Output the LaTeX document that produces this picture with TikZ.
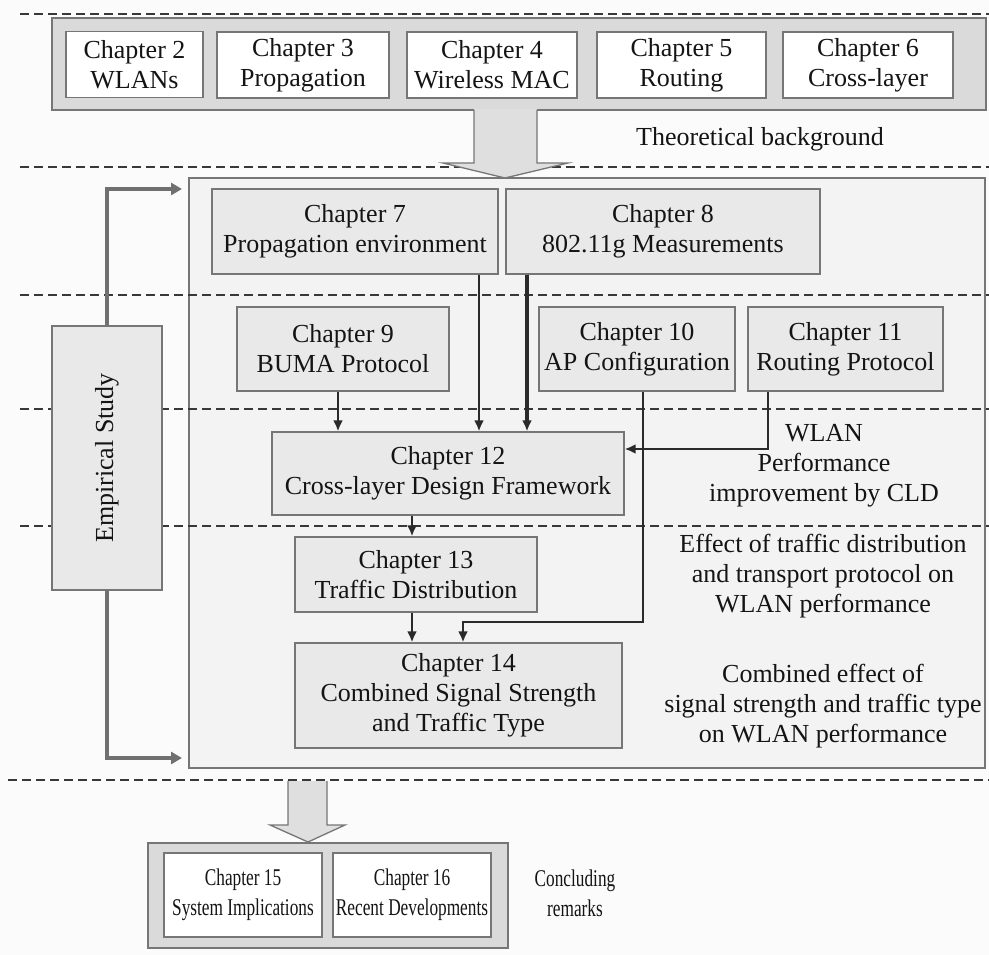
\documentclass[tikz,border=0pt]{standalone}
\usepackage{fontspec}
\setmainfont{Liberation Serif}
\newfontfamily\condfont[FakeStretch=0.72]{Liberation Serif}
\usetikzlibrary{arrows.meta}
\definecolor{pagebg}{HTML}{FBFBFB}
\definecolor{panelfill}{HTML}{F3F3F3}
\definecolor{topfill}{HTML}{DADADA}
\definecolor{midfill}{HTML}{E9E9E9}
\definecolor{bigarrowfill}{HTML}{DFDFDF}
\definecolor{boxline}{HTML}{767676}
\definecolor{dashcol}{HTML}{383838}
\definecolor{arrowdark}{HTML}{2A2A2A}
\definecolor{emparrow}{HTML}{707070}
\definecolor{textcol}{HTML}{141414}
\begin{document}
\begin{tikzpicture}[x=1pt,y=-1pt,
  font=\fontsize{26}{30}\selectfont, text=textcol,
  wh/.style 2 args={minimum width=#1pt, minimum height=#2pt},
  chap/.style={draw=boxline, line width=1.3pt, align=center, inner sep=0pt},
  whitechap/.style={chap, fill=white},
  graychap/.style={chap, fill=midfill},
  container/.style={draw=boxline, line width=1.3pt, inner sep=0pt},
  divider/.style={draw=dashcol, line width=2pt, dash pattern=on 9pt off 5pt},
  arr/.style={draw=arrowdark, line width=2.2pt, -{Latex[length=11pt,width=10pt]}},
  thickarr/.style={arr, line width=3.5pt},
  emparr/.style={draw=emparrow, line width=3.5pt, -{Triangle[length=11pt,width=12pt]}},
  bigarrow/.style={fill=bigarrowfill, draw=boxline, line width=1.3pt, line join=miter},
  lbl/.style={align=center, inner sep=0pt},
  small/.style={font=\condfont\fontsize{24}{30}\selectfont}
]
% page
\fill[pagebg] (0,0) rectangle (989,955);
\useasboundingbox (0,0) rectangle (989,955);

% empirical-study panel
\node[container, fill=panelfill, wh={796}{590}] (panel) at (587,473) {};

% section dividers
\draw[divider] (20,14) -- (989,14);
\draw[divider] (20,167) -- (989,167);
\draw[divider] (20,295) -- (989,295);
\draw[divider] (20,409) -- (989,409);
\draw[divider] (20,526) -- (989,526);
\draw[divider] (8,780) -- (989,780);

% theoretical background chapters
\node[container, fill=topfill, wh={934}{92}] (tb) at (519,64) {};
\node[whitechap, wh={137}{66}] (c2) at (134.5,64.5) {Chapter 2\\WLANs};
\node[whitechap, wh={172}{66}] (c3) at (303,65) {Chapter 3\\Propagation};
\node[whitechap, wh={170}{66}] (c4) at (492,65) {Chapter 4\\Wireless MAC};
\node[whitechap, wh={169}{66}] (c5) at (681.5,65) {Chapter 5\\Routing};
\node[whitechap, wh={170}{66}] (c6) at (868,65) {Chapter 6\\Cross-layer};

% block arrow into the empirical part
\fill[bigarrowfill] (474,109) -- (474,163) -- (443,163) -- (505,178) -- (568,163) -- (537,163) -- (537,109) -- cycle;
\draw[bigarrow, fill=none] (474,110) -- (474,163) -- (443,163) -- (505,178) -- (568,163) -- (537,163) -- (537,110);
\node[lbl] (theo) at (760,139) {Theoretical background};

% empirical study side bar
\node[chap, fill=midfill, wh={110}{264}] (emp) at (107,458) {};
\node[lbl, rotate=90] (empt) at (emp.center) {Empirical Study};
\coordinate (e1) at (182,189);
\coordinate (e2) at (182,758);
\draw[emparr] (emp.north) |- (e1);
\draw[emparr] (emp.south) |- (e2);

% empirical chapters
\node[graychap, wh={286}{85}] (c7) at (355,231.5) {Chapter 7\\Propagation environment};
\node[graychap, wh={314}{85}] (c8) at (663,231.5) {Chapter 8\\802.11g Measurements};
\node[graychap, wh={212}{84}] (c9) at (343,349) {Chapter 9\\BUMA Protocol};
\node[graychap, wh={196}{84}] (c10) at (637,349) {Chapter 10\\AP Configuration};
\node[graychap, wh={195}{84}] (c11) at (845.5,349) {Chapter 11\\Routing Protocol};
\node[graychap, wh={352}{83}] (c12) at (448,473.5) {Chapter 12\\Cross-layer Design Framework};
\node[graychap, wh={242}{75}] (c13) at (416,574.5) {Chapter 13\\Traffic Distribution};
\node[graychap, wh={327}{105}] (c14) at (458.5,695.5) {Chapter 14\\Combined Signal Strength\\and Traffic Type};

% connector guide positions
\coordinate (x9) at (338,0);
\coordinate (x7) at (479,0);
\coordinate (x8) at (527,0);
\coordinate (x10) at (643,0);
\coordinate (x11) at (768,0);
\coordinate (x12) at (412,0);
\coordinate (x14) at (463,0);
\coordinate (y11) at (0,449);
\coordinate (y10) at (0,622);

\draw[arr] (c9.south -| x9) -- (c12.north -| x9);
\draw[arr] (c7.south -| x7) -- (c12.north -| x7);
\draw[thickarr] (c8.south -| x8) -- (c12.north -| x8);
\draw[arr] (c11.south -| x11) |- (c12.east |- y11);
\draw[arr] (c10.south -| x10) |- (x14 |- y10) -- (c14.north -| x14);
\draw[arr] (c12.south -| x12) -- (c13.north -| x12);
\draw[arr] (c13.south -| x12) -- (c14.north -| x12);

% layer descriptions
\node[lbl] (wlan) at (824,466) {WLAN\\Performance\\improvement by CLD};
\node[lbl] (effect) at (823,576) {Effect of traffic distribution\\and transport protocol on\\WLAN performance};
\node[lbl] (comb) at (823,706) {Combined effect of\\signal strength and traffic type\\on WLAN performance};

% block arrow into concluding remarks
\fill[bigarrowfill] (288,781) -- (288,825) -- (270,825) -- (308,842) -- (345,825) -- (327,825) -- (327,781) -- cycle;
\draw[bigarrow, fill=none] (288,781) -- (288,825) -- (270,825) -- (308,842) -- (345,825) -- (327,825) -- (327,781);

% concluding chapters
\node[container, fill=topfill, wh={360}{105}] (bb) at (328,895.5) {};
\node[whitechap, small, wh={158}{84}] (c15) at (243,895) {Chapter 15\\System Implications};
\node[whitechap, small, wh={158}{84}] (c16) at (412,895) {Chapter 16\\Recent Developments};
\node[lbl, small] (concl) at (575,893) {Concluding\\remarks};
\end{tikzpicture}
\end{document}
